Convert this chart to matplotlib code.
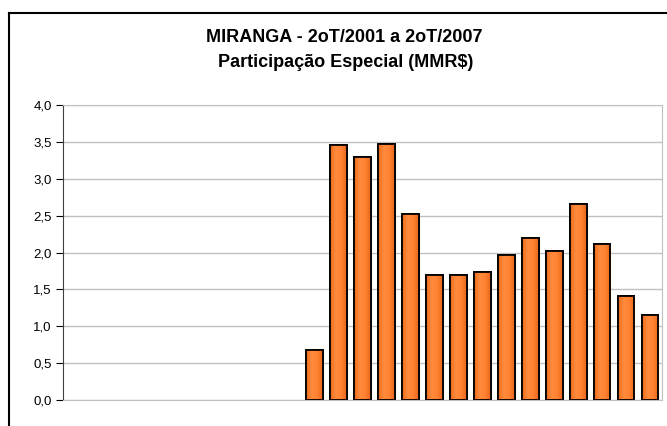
import numpy as np
import matplotlib.pyplot as plt
from matplotlib.colors import LinearSegmentedColormap
from matplotlib.lines import Line2D

plt.rcParams['font.family'] = ['Liberation Sans', 'DejaVu Sans']

# quarters 2T/2001 .. 2T/2007
quarters = ['2T01', '3T01', '4T01', '1T02', '2T02', '3T02', '4T02', '1T03', '2T03',
            '3T03', '4T03', '1T04', '2T04', '3T04', '4T04', '1T05', '2T05', '3T05',
            '4T05', '1T06', '2T06', '3T06', '4T06', '1T07', '2T07']
# participacao especial (MM R$), nan = no payment in the quarter
pe_values = [np.nan] * 10 + [0.68, 3.46, 3.30, 3.47, 2.52, 1.70, 1.70, 1.73,
                             1.97, 2.20, 2.02, 2.66, 2.11, 1.41, 1.15]
yticks = [0.0, 0.5, 1.0, 1.5, 2.0, 2.5, 3.0, 3.5, 4.0]

fig = plt.figure(figsize=(6.67, 4.26), dpi=100)
ax = fig.add_axes([0.0945, 0.061, 0.898, 0.6925])

x = np.arange(len(quarters))
vals = np.array(pe_values)
ok = ~np.isnan(vals)

# horizontal orange gradient like the spreadsheet fill
grad = LinearSegmentedColormap.from_list('og', ['#EC6A1A', '#FF8A3E', '#FF8232', '#E5651A'])
g = np.linspace(0, 1, 64).reshape(1, -1)
bw = 0.7
bars = ax.bar(x[ok], vals[ok], width=bw, color='#FF7F2A', edgecolor='black',
              linewidth=1.3, zorder=3)
for b in bars:
    im = ax.imshow(g, cmap=grad, aspect='auto', zorder=3.5,
                   extent=[b.get_x(), b.get_x() + b.get_width(), 0, b.get_height()])
    im.set_clip_path(b)
    # redraw outline over the gradient
    ax.add_patch(plt.Rectangle((b.get_x(), 0), b.get_width(), b.get_height(),
                               fill=False, edgecolor='black', linewidth=1.3, zorder=4))

ax.set_xlim(-0.5, len(quarters) - 0.5)
ax.set_ylim(0, 4.0)
ax.set_yticks(yticks)
ax.set_yticklabels([f'{v:.1f}'.replace('.', ',') for v in yticks], fontsize=9.5)
ax.set_xticks([])
ax.grid(axis='y', color='#C0C0C0', linewidth=1, zorder=0)
ax.tick_params(axis='y', length=5, width=0.8, pad=3, color='black')

for s in ['top', 'right', 'bottom']:
    ax.spines[s].set_color('#C0C0C0')
ax.spines['left'].set_color('#404040')

fig.text(0.516, 0.913, 'MIRANGA - 2oT/2001 a 2oT/2007', ha='center', va='center',
         fontsize=13, fontweight='bold')
fig.text(0.518, 0.854, 'Participação Especial (MMR$)', ha='center', va='center',
         fontsize=13, fontweight='bold')

# outer chart frame (top and left edges)
fig.add_artist(Line2D([9 / 667, 1.0], [1 - 12.5 / 426] * 2, color='black', linewidth=1.5))
fig.add_artist(Line2D([9 / 667] * 2, [0.0, 1 - 12.5 / 426], color='black', linewidth=1.5))

fig.savefig('out.png', dpi=100)
